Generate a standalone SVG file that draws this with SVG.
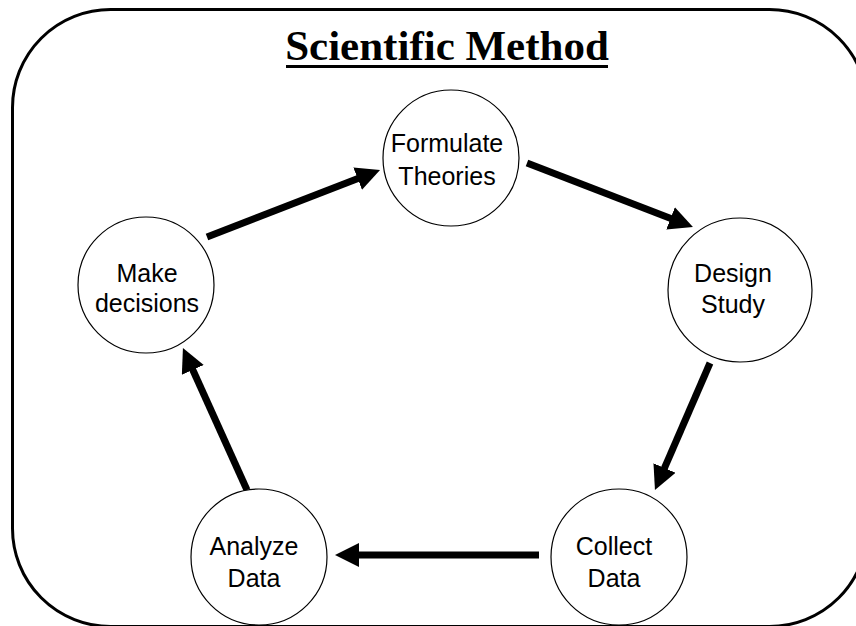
<svg xmlns="http://www.w3.org/2000/svg" width="856" height="626" viewBox="0 0 856 626">
  <style>
    .node circle { fill: #ffffff; stroke: #000000; stroke-width: 1.2; }
    .node text { font-family: "Liberation Sans", Arial, sans-serif; font-size: 25px; fill: #000000; text-anchor: middle; }
    .conn line { stroke: #000000; stroke-width: 7; marker-end: url(#head); }
    .title { font-family: "Liberation Serif", "Times New Roman", serif; font-weight: bold; font-size: 43px; fill: #000000; text-anchor: middle; }
  </style>
  <defs>
    <marker id="head" markerUnits="userSpaceOnUse" markerWidth="24" markerHeight="24" refX="1" refY="12" orient="auto">
      <path d="M0,0 L24,12 L0,24 z" fill="#000000"/>
    </marker>
  </defs>
  <rect width="856" height="626" fill="#ffffff"/>
  <rect id="frame" x="12.5" y="9.5" width="855" height="617" rx="98" ry="98" fill="none" stroke="#000000" stroke-width="3"/>
  <g id="title">
    <text class="title" x="447" y="60">Scientific Method</text>
    <line x1="286" y1="66.5" x2="608" y2="66.5" stroke="#000000" stroke-width="3"/>
  </g>
  <g id="connectors" class="conn">
    <line x1="207" y1="237" x2="358.6" y2="178.3"/>
    <line x1="527" y1="163" x2="671.5" y2="218.7"/>
    <line x1="710" y1="363" x2="664.1" y2="468.9"/>
    <line x1="539" y1="555" x2="358" y2="555"/>
    <line x1="247" y1="490" x2="192.4" y2="369"/>
  </g>
  <g id="formulate" class="node">
    <circle cx="451" cy="158" r="68"/>
    <text x="447" y="152">Formulate</text>
    <text x="447" y="185">Theories</text>
  </g>
  <g id="design" class="node">
    <circle cx="740" cy="290" r="72"/>
    <text x="733" y="282">Design</text>
    <text x="733" y="313">Study</text>
  </g>
  <g id="collect" class="node">
    <circle cx="619" cy="557" r="68"/>
    <text x="614" y="555">Collect</text>
    <text x="614" y="587">Data</text>
  </g>
  <g id="analyze" class="node">
    <circle cx="259" cy="557" r="68"/>
    <text x="254" y="555">Analyze</text>
    <text x="254" y="587">Data</text>
  </g>
  <g id="make" class="node">
    <circle cx="146" cy="285" r="68"/>
    <text x="147" y="282">Make</text>
    <text x="147" y="312">decisions</text>
  </g>
</svg>
